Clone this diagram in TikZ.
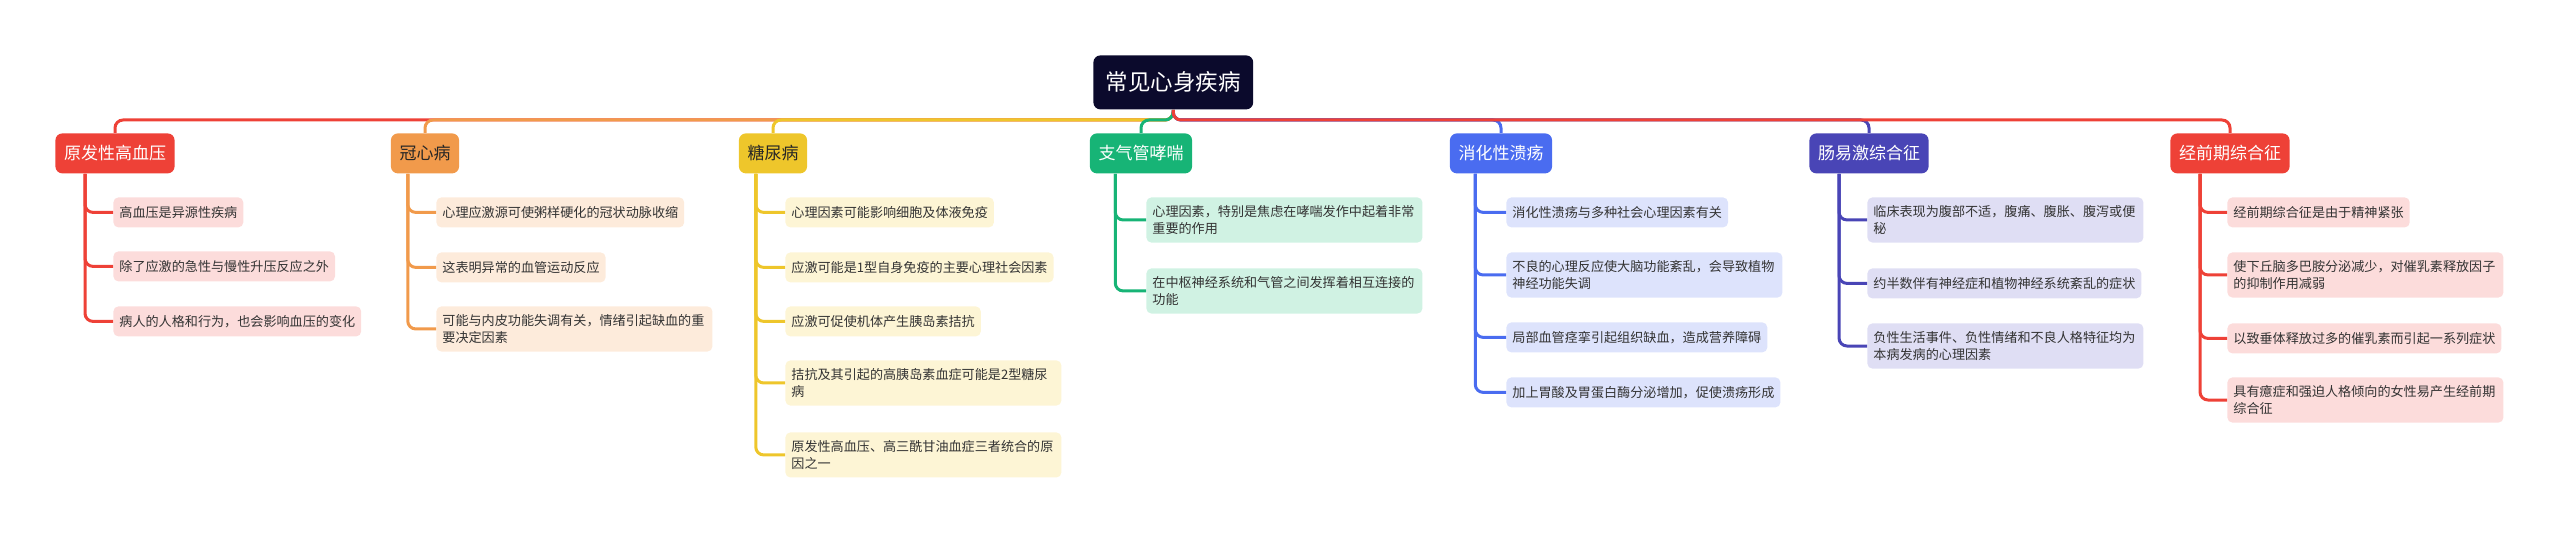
\documentclass[tikz,border=0pt]{standalone}
\usepackage{fontspec}
\newfontfamily\cjk{Noto Sans CJK SC}
\usetikzlibrary{calc}

\definecolor{rootc}{HTML}{0B0A2C}
\definecolor{redc}{HTML}{EE4137}
\definecolor{orangec}{HTML}{F19A4B}
\definecolor{yellowc}{HTML}{EEC62B}
\definecolor{greenc}{HTML}{17B476}
\definecolor{bluec}{HTML}{4A6CF0}
\definecolor{indigoc}{HTML}{4945B6}
\definecolor{redl}{HTML}{FCDCDB}
\definecolor{orangel}{HTML}{FDEBDB}
\definecolor{yellowl}{HTML}{FDF5D5}
\definecolor{greenl}{HTML}{D0F2E3}
\definecolor{bluel}{HTML}{DDE3FC}
\definecolor{indigol}{HTML}{DFDEF4}

\begin{document}
\begin{tikzpicture}[x=0.5pt, y=-0.5pt,
    rootbox/.style={fill=rootc, rounded corners=3.5pt, anchor=north west, minimum height=27pt, inner xsep=6.2pt, text=white, font=\cjk\fontsize{11.25}{13}\selectfont},
    topic/.style={fill=#1, rounded corners=3.5pt, anchor=north, minimum height=20pt, inner xsep=4.3pt, text=white, font=\cjk\fontsize{8.5}{10}\selectfont},
    leaf/.style={fill=#1, rounded corners=2.5pt, anchor=north west, minimum height=15pt, inner xsep=3pt, inner ysep=4pt, align=left, text=black!80, font=\cjk\fontsize{6.55}{8.5}\selectfont},
    wide/.style={text width=132pt},
    link/.style={draw=#1, line width=1.5pt, rounded corners=4pt}]
    \useasboundingbox (0,0) rectangle (2560,535);

    % root and topics
    \node (root) [rootbox] at (1093,55) {常见心身疾病};
    \coordinate (bus) at (1173,120);
    \node (b1) [topic=redc] at (115,133) {原发性高血压};
    \node (b2) [topic=orangec, text=black!85] at (425,133) {冠心病};
    \node (b3) [topic=yellowc, text=black!85] at (773,133) {糖尿病};
    \node (b4) [topic=greenc] at (1141,133) {支气管哮喘};
    \node (b5) [topic=bluec] at (1501,133) {消化性溃疡};
    \node (b6) [topic=indigoc] at (1869,133) {肠易激综合征};
    \node (b7) [topic=redc] at (2230,133) {经前期综合征};

    % leaves
    \node (l1a) [leaf=redl] at (113,197) {高血压是异源性疾病};
    \node (l1b) [leaf=redl] at (113,251) {除了应激的急性与慢性升压反应之外};
    \node (l1c) [leaf=redl] at (113,306) {病人的人格和行为，也会影响血压的变化};

    \node (l2a) [leaf=orangel] at (436,197) {心理应激源可使粥样硬化的冠状动脉收缩};
    \node (l2b) [leaf=orangel] at (436,252) {这表明异常的血管运动反应};
    \node (l2c) [leaf=orangel, wide] at (436,306) {可能与内皮功能失调有关，情绪引起缺血的重\\要决定因素};

    \node (l3a) [leaf=yellowl] at (785,197) {心理因素可能影响细胞及体液免疫};
    \node (l3b) [leaf=yellowl] at (785,252) {应激可能是1型自身免疫的主要心理社会因素};
    \node (l3c) [leaf=yellowl] at (785,306) {应激可促使机体产生胰岛素拮抗};
    \node (l3d) [leaf=yellowl, wide] at (785,360) {拮抗及其引起的高胰岛素血症可能是2型糖尿\\病};
    \node (l3e) [leaf=yellowl, wide] at (785,432) {原发性高血压、高三酰甘油血症三者统合的原\\因之一};

    \node (l4a) [leaf=greenl, wide] at (1146,197) {心理因素，特别是焦虑在哮喘发作中起着非常\\重要的作用};
    \node (l4b) [leaf=greenl, wide] at (1146,268) {在中枢神经系统和气管之间发挥着相互连接的\\功能};

    \node (l5a) [leaf=bluel] at (1506,197) {消化性溃疡与多种社会心理因素有关};
    \node (l5b) [leaf=bluel, wide] at (1506,252) {不良的心理反应使大脑功能紊乱，会导致植物\\神经功能失调};
    \node (l5c) [leaf=bluel] at (1506,322) {局部血管痉挛引起组织缺血，造成营养障碍};
    \node (l5d) [leaf=bluel] at (1506,377) {加上胃酸及胃蛋白酶分泌增加，促使溃疡形成};

    \node (l6a) [leaf=indigol, wide] at (1867,197) {临床表现为腹部不适，腹痛、腹胀、腹泻或便\\秘};
    \node (l6b) [leaf=indigol] at (1867,268) {约半数伴有神经症和植物神经系统紊乱的症状};
    \node (l6c) [leaf=indigol, wide] at (1867,323) {负性生活事件、负性情绪和不良人格特征均为\\本病发病的心理因素};

    \node (l7a) [leaf=redl] at (2227,197) {经前期综合征是由于精神紧张};
    \node (l7b) [leaf=redl, wide] at (2227,252) {使下丘脑多巴胺分泌减少，对催乳素释放因子\\的抑制作用减弱};
    \node (l7c) [leaf=redl] at (2227,323) {以致垂体释放过多的催乳素而引起一系列症状};
    \node (l7d) [leaf=redl, wide] at (2227,377) {具有癔症和强迫人格倾向的女性易产生经前期\\综合征};

    % root to topics
    \draw [link=redc] (root.south) -- (bus) -| (b1.north);
    \draw [link=orangec] (root.south) -- (bus) -| (b2.north);
    \draw [link=yellowc] (root.south) -- (bus) -| (b3.north);
    \draw [link=greenc] (root.south) -- (bus) -| (b4.north);
    \draw [link=bluec] (root.south) -- (bus) -| (b5.north);
    \draw [link=indigoc] (root.south) -- (bus) -| (b6.north);
    \draw [link=redc] (root.south) -- (bus) -| (b7.north);

    % topics to leaves
    \coordinate (t1) at ($(b1.south west)!0.25!(b1.south east)$);
    \coordinate (t2) at ($(b2.south west)!0.25!(b2.south east)$);
    \coordinate (t3) at ($(b3.south west)!0.25!(b3.south east)$);
    \coordinate (t4) at ($(b4.south west)!0.25!(b4.south east)$);
    \coordinate (t5) at ($(b5.south west)!0.25!(b5.south east)$);
    \coordinate (t6) at ($(b6.south west)!0.25!(b6.south east)$);
    \coordinate (t7) at ($(b7.south west)!0.25!(b7.south east)$);
    \foreach \l in {l1a,l1b,l1c} \draw [link=redc] (t1) |- (\l.west);
    \foreach \l in {l2a,l2b,l2c} \draw [link=orangec] (t2) |- (\l.west);
    \foreach \l in {l3a,l3b,l3c,l3d,l3e} \draw [link=yellowc] (t3) |- (\l.west);
    \foreach \l in {l4a,l4b} \draw [link=greenc] (t4) |- (\l.west);
    \foreach \l in {l5a,l5b,l5c,l5d} \draw [link=bluec] (t5) |- (\l.west);
    \foreach \l in {l6a,l6b,l6c} \draw [link=indigoc] (t6) |- (\l.west);
    \foreach \l in {l7a,l7b,l7c,l7d} \draw [link=redc] (t7) |- (\l.west);
\end{tikzpicture}
\end{document}
